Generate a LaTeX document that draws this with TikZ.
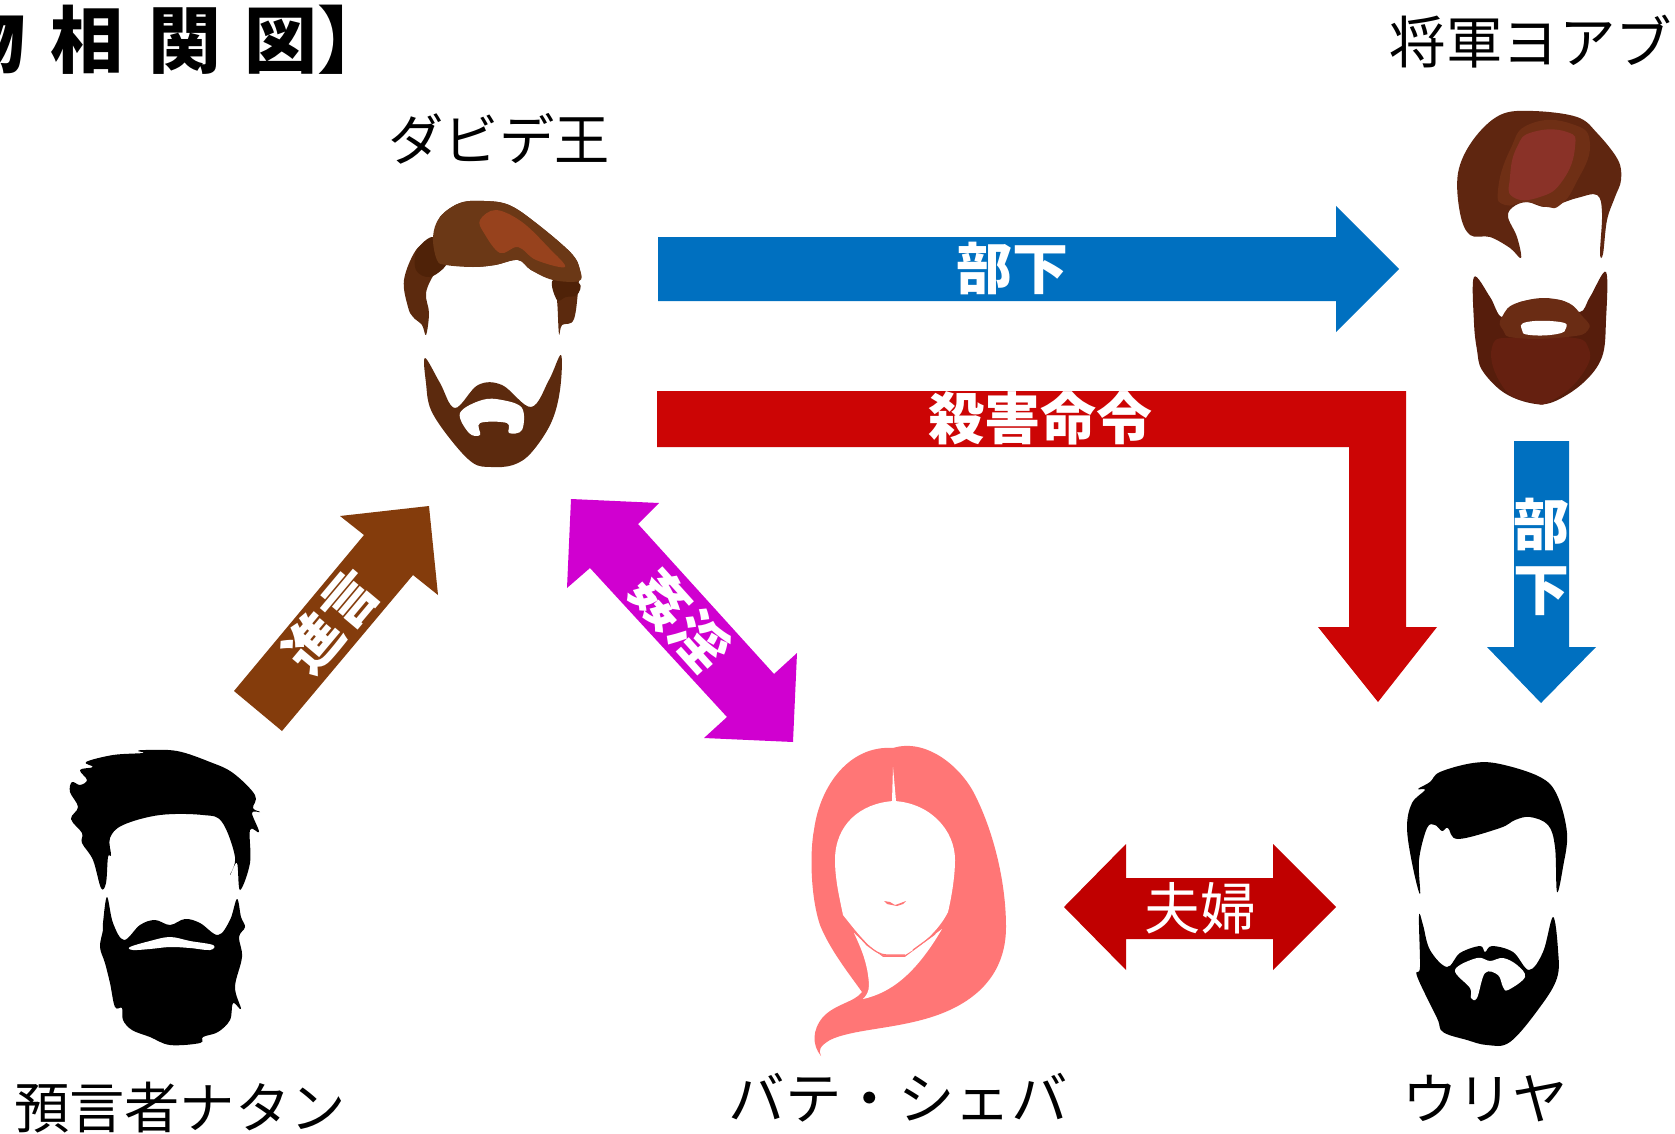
\documentclass[tikz,border=0pt]{standalone}
\usepackage{fontspec}
\newfontfamily\jp{Noto Sans CJK JP}
\definecolor{cblue}{HTML}{0070C0}
\definecolor{cred}{HTML}{CC0505}
\definecolor{cdred}{HTML}{C00000}
\definecolor{cbrown}{HTML}{843C0C}
\definecolor{cmag}{HTML}{D000D0}
\definecolor{cpink}{HTML}{FF7676}
\tikzset{
  name label/.style={inner sep=0pt,font=\jp\fontsize{56.5}{56.5}\selectfont,text=black},
  name label small/.style={inner sep=0pt,font=\jp\fontsize{55.3}{55.3}\selectfont,text=black},
  arrow label/.style={inner sep=0pt,font=\jp\bfseries\fontsize{56}{56}\selectfont,text=white},
  arrow label plain/.style={inner sep=0pt,font=\jp\fontsize{56}{56}\selectfont,text=white},
  title label/.style={inner sep=0pt,anchor=west,font=\jp\bfseries\fontsize{73}{73}\selectfont,text=black},
  blob/.style={smooth cycle,tension=.6},
  softblob/.style={smooth cycle,tension=.85},
}
\begin{document}
\begin{tikzpicture}[x=1pt,y=-1pt]
\useasboundingbox (0,0) rectangle (1675,1134);
\fill[white] (0,0) rectangle (1675,1134);
% block arrows
\fill[cblue] (658,237)--(1336,237)--(1336,206)--(1399,269)--(1336,332)--(1336,301)--(658,301)--cycle;
\fill[cred] (657,391)--(1406,391)--(1406,627)--(1437,627)--(1378,702)--(1318,627)--(1349,627)--(1349,447)--(657,447)--cycle;
\fill[cblue] (1514,441)--(1569,441)--(1569,647)--(1596,647)--(1541,703)--(1487,647)--(1514,647)--cycle;
\fill[cdred] (1064,907)--(1126,844)--(1126,878)--(1273,878)--(1273,844)--(1336,907)--(1273,970)--(1273,939)--(1126,939)--(1126,970)--cycle;
\fill[cbrown] (234,691)--(282,731)--(413,575)--(438,595)--(429,506)--(340,516)--(364,535)--cycle;
\fill[cmag] (571,499)--(659,503)--(638,524)--(774,674)--(797,653)--(793,742)--(704,738)--(727,717)--(590,568)--(567,588)--cycle;
% arrow labels
\node[arrow label] (lblA) at (1012,268) {部下};
\node[arrow label] (lblB) at (1040,418) {殺害命令};
\node[arrow label] (lblC) at (1541,524) {部};
\node[arrow label] (lblD) at (1541,591) {下};
\node[arrow label plain] (lblE) at (1200,908) {夫婦};
\node[arrow label,rotate=50] (lblF) at (331,621) {進言};
\node[arrow label,rotate=-48] (lblG) at (681,620) {姦淫};
% name labels
\node[title label] (title) at (-48,40) {物\hspace{25pt}相\hspace{25pt}関\hspace{23pt}図】};
\node[name label small] (david) at (499,139) {ダビデ王};
\node[name label] (joab) at (1531,42) {将軍ヨアブ};
\node[name label small] (nathan) at (180,1108) {預言者ナタン};
\node[name label] (bath) at (898,1098) {バテ・シェバ};
\node[name label small] (uriah) at (1485,1099) {ウリヤ};
% David
\fill[color={rgb,255:red,92;green,42;blue,14}] plot[blob] coordinates {(433,237)(416,250)(404,280)(408,307)(413,317)(422,325)(426,335)(429,313)(426,293)(435,273)(446,265)(473,267)(495,265)(518,260)(531,270)(553,280)(557,300)(559,334)(562,325)(574,319)(579,280)(580,270)(571,253)(536,223)(509,205)(484,201)(460,203)(440,217)};
\fill[color={rgb,255:red,79;green,34;blue,8}] plot[blob] coordinates {(433,237)(417,250)(416,270)(430,277)(446,265)(440,255)};
\fill[color={rgb,255:red,79;green,34;blue,8}] plot[blob] coordinates {(553,280)(579,283)(577,295)(566,297)(557,300)};
\fill[color={rgb,255:red,107;green,56;blue,22}] plot[blob] coordinates {(433,237)(440,217)(460,203)(484,201)(509,205)(536,223)(571,253)(580,270)(579,281)(553,280)(531,270)(518,260)(495,265)(473,267)(446,265)(437,260)};
\fill[color={rgb,255:red,151;green,66;blue,29}] plot[blob] coordinates {(480,220)(496,210)(522,222)(549,248)(565,267)(536,260)(518,247)(500,253)(484,233)};
\fill[color={rgb,255:red,92;green,42;blue,14}] plot[blob] coordinates {(425,358)(440,383)(455,408)(478,385)(502,385)(531,407)(549,380)(561,355)(560,390)(551,423)(531,453)(513,465)(491,467)(473,463)(451,440)(431,410)(426,383)};
\fill[white] plot[blob] coordinates {(460,413)(482,400)(502,400)(522,408)(522,430)(509,433)(507,423)(480,423)(480,435)(469,433)};
% Joab
\fill[color={rgb,255:red,95;green,38;blue,16}] plot[blob] coordinates {(1500,115)(1533,111)(1577,117)(1597,133)(1618,160)(1621,180)(1615,197)(1607,220)(1603,254)(1600,253)(1602,213)(1597,195)(1577,198)(1547,207)(1527,202)(1513,207)(1508,217)(1517,237)(1521,258)(1510,248)(1490,237)(1470,235)(1460,213)(1458,173)(1473,140)};
\fill[color={rgb,255:red,111;green,47;blue,21}] plot[softblob] coordinates {(1530,124)(1572,124)(1590,145)(1575,185)(1560,205)(1547,207)(1527,202)(1505,205)(1498,190)(1510,150)};
\fill[color={rgb,255:red,138;green,50;blue,40}] plot[softblob] coordinates {(1533,132)(1567,132)(1575,147)(1563,180)(1540,197)(1513,197)(1510,177)(1517,147)};
\fill[color={rgb,255:red,86;green,29;blue,12}] plot[blob] coordinates {(1474,277)(1490,297)(1502,317)(1520,302)(1560,300)(1580,312)(1590,297)(1606,272)(1606,320)(1602,357)(1583,383)(1553,402)(1530,403)(1503,392)(1482,370)(1477,350)(1474,323)};
\fill[color={rgb,255:red,101;green,32;blue,16}] plot[softblob] coordinates {(1492,347)(1517,337)(1567,337)(1588,347)(1583,373)(1553,400)(1530,402)(1503,387)};
\fill[color={rgb,255:red,106;green,44;blue,20}] plot[softblob] coordinates {(1502,317)(1520,302)(1560,300)(1583,317)(1588,330)(1567,337)(1517,338)(1503,330)};
\fill[white] plot[softblob] coordinates {(1522,330)(1527,322)(1560,322)(1566,328)(1557,334)(1530,335)};
% Nathan
\fill[black] plot[blob] coordinates {(145,750)(177,751)(210,762)(233,773)(255,795)(253,808)(260,812)(252,813)(259,832)(250,830)(250,863)(240,890)(237,863)(230,875)(235,857)(222,822)(203,815)(160,815)(123,825)(110,838)(111,855)(108,857)(106,883)(101,888)(93,860)(82,843)(82,833)(71,819)(78,807)(70,792)(72,782)(80,785)(87,780)(80,770)(93,767)(86,762)(113,755)(143,753)(138,751)};
\fill[black] plot[blob] coordinates {(107,897)(113,923)(124,940)(140,925)(155,920)(170,925)(185,919)(200,923)(218,935)(230,920)(237,899)(241,917)(245,927)(239,937)(242,957)(235,987)(241,1009)(233,1003)(230,1020)(218,1032)(203,1037)(200,1043)(170,1045)(150,1037)(132,1030)(123,1020)(122,1008)(115,1007)(110,983)(105,963)(100,947)(103,930)(103,923)};
\fill[white] plot[blob] coordinates {(130,947)(150,941)(170,937)(190,941)(213,945)(210,950)(190,948)(170,947)(150,949)(133,950)};
% Bathsheba
\fill[cpink] (893,748) .. controls (925,738) and (960,765) .. (975,795) .. controls (995,835) and (1006,885) .. (1006,927) .. controls (1006,975) and (975,1005) .. (925,1019) .. controls (890,1029) and (850,1030) .. (830,1040) .. controls (820,1046) and (818,1050) .. (821,1056) .. controls (812,1045) and (812,1030) .. (823,1017) .. controls (835,1004) and (855,1002) .. (862,992) .. controls (850,975) and (830,950) .. (820,925) .. controls (810,895) and (810,850) .. (814,830) .. controls (820,785) and (850,745) .. (893,748) -- cycle;
\fill[white] (894,801) .. controls (930,803) and (955,830) .. (955,860) .. controls (955,875) and (952,895) .. (948,912) .. controls (940,928) and (925,942) .. (913,950) -- (905,955) -- (883,955) .. controls (870,950) and (855,930) .. (843,915) .. controls (840,900) and (835,880) .. (835,860) .. controls (835,825) and (860,803) .. (894,801) -- cycle;
\fill[white] (854,933) .. controls (862,950) and (868,965) .. (869,985) .. controls (869,992) and (866,996) .. (863,999) .. controls (890,993) and (915,975) .. (942,929) -- (913,951) -- (905,957) -- (883,957) -- (867,945) -- cycle;
\draw[cpink,line width=1.2pt] (854,931) -- (867,945) .. controls (875,951) and (880,955) .. (887,955) -- (905,955);
\draw[cpink,line width=1.2pt] (913,950) -- (935,934);
\fill[white] (893,767)--(896,801)--(892,801)--cycle;
\fill[cpink] (884,901)--(890,902)--(895,905)--(898,904)--(906,901)--(903,904)--(897,906)--(892,905)--(887,904)--cycle;
% Uriah
\fill[black] plot[blob] coordinates {(1440,772)(1473,763)(1500,764)(1540,777)(1557,795)(1567,833)(1563,867)(1557,892)(1555,847)(1548,825)(1530,817)(1515,820)(1500,828)(1458,839)(1448,828)(1442,831)(1435,825)(1427,828)(1419,860)(1420,894)(1412,863)(1407,827)(1412,803)(1425,790)(1418,789)(1430,782)};
\fill[black] plot[blob] coordinates {(1419,916)(1423,925)(1430,950)(1447,967)(1460,953)(1480,946)(1485,952)(1492,946)(1513,952)(1529,970)(1543,952)(1553,917)(1558,950)(1557,978)(1540,1007)(1510,1042)(1487,1045)(1467,1040)(1443,1032)(1437,1018)(1417,976)(1420,967)};
\fill[white] plot[blob] coordinates {(1455,970)(1477,958)(1490,961)(1503,958)(1517,965)(1525,977)(1508,990)(1503,987)(1498,975)(1485,973)(1477,998)(1471,998)(1470,988)};
\end{tikzpicture}
\end{document}
